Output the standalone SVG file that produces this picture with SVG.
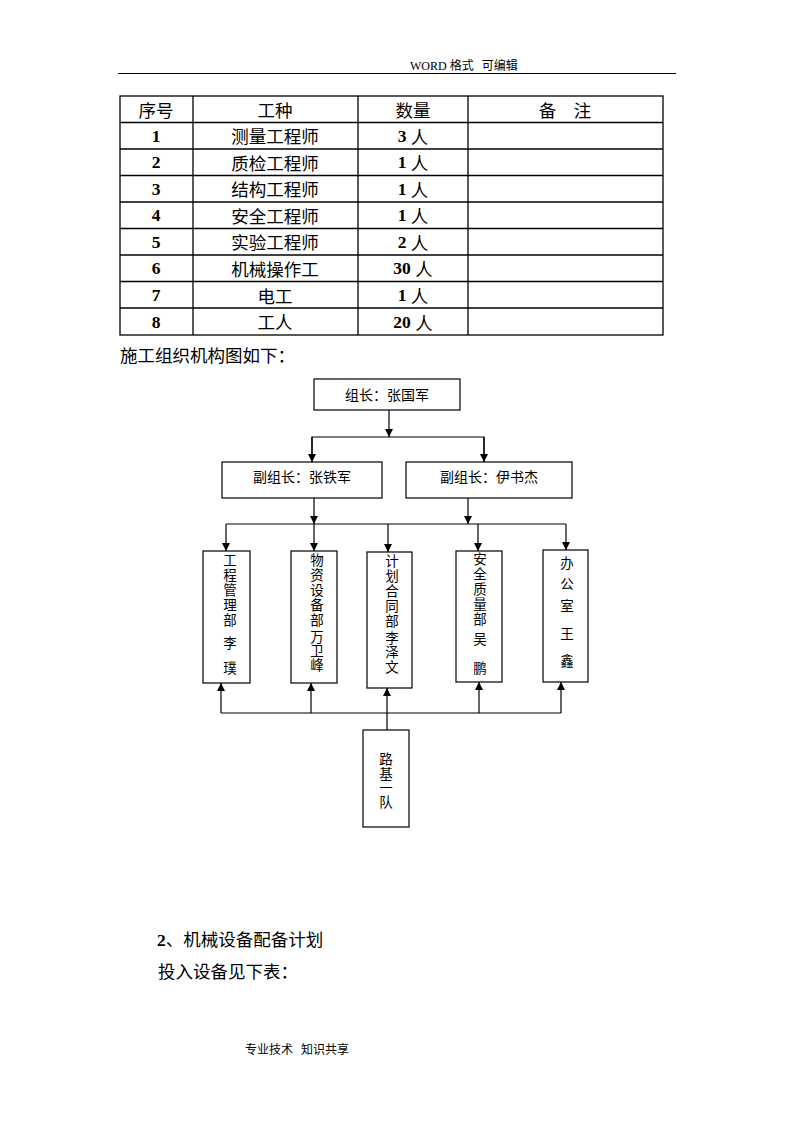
<svg xmlns="http://www.w3.org/2000/svg" width="794" height="1123" viewBox="0 0 794 1123">
<defs>
<style>
.cjk{font-family:"Noto Sans CJK SC","Liberation Sans",sans-serif;fill:#000}
.num{font-family:"Liberation Serif","Noto Sans CJK SC",serif;font-weight:bold;fill:#000}
.t{font-size:17.5px;text-anchor:middle;dominant-baseline:central}
.box{fill:#fff;stroke:#000;stroke-width:1.2}
.v{font-size:13.5px;text-anchor:middle;dominant-baseline:central}
.vt{font-size:13.5px;text-anchor:middle;writing-mode:vertical-rl;text-orientation:upright;dominant-baseline:central;letter-spacing:1.5px}
.grid{stroke:#000;stroke-width:1.3;fill:none}
.conn{stroke:#000;stroke-width:1.2;fill:none}
</style>
<marker id="arr" markerWidth="8" markerHeight="8" refX="8" refY="4" orient="auto" markerUnits="userSpaceOnUse">
<path d="M0,0 L8,4 L0,8 Z" fill="#000"/>
</marker>
</defs>
<rect width="794" height="1123" fill="#fff"/>
<!-- header -->
<g id="header">
<text x="410" y="70" style="font-family:'Liberation Serif','Noto Sans CJK SC',serif;font-size:12px">WORD <tspan class="cjk">格式&#160;&#160;&#160;可编辑</tspan></text>
<line x1="118" y1="73.5" x2="676" y2="73.5" stroke="#000" stroke-width="1.2"/>
</g>
<!-- table -->
<g id="table">
<rect x="120" y="96" width="543" height="239" class="grid"/>
<g class="grid">
<line x1="193" y1="96" x2="193" y2="335"/>
<line x1="358" y1="96" x2="358" y2="335"/>
<line x1="468" y1="96" x2="468" y2="335"/>
<line x1="120" y1="122.5" x2="663" y2="122.5"/>
<line x1="120" y1="149" x2="663" y2="149"/>
<line x1="120" y1="175.5" x2="663" y2="175.5"/>
<line x1="120" y1="202" x2="663" y2="202"/>
<line x1="120" y1="228.5" x2="663" y2="228.5"/>
<line x1="120" y1="255" x2="663" y2="255"/>
<line x1="120" y1="281.5" x2="663" y2="281.5"/>
<line x1="120" y1="308" x2="663" y2="308"/>
</g>
<g class="cjk t">
<text x="156" y="109">序号</text>
<text x="275" y="109">工种</text>
<text x="413" y="109">数量</text>
<text x="565" y="109">备　注</text>
<text x="275" y="135.5">测量工程师</text>
<text x="275" y="162">质检工程师</text>
<text x="275" y="188.5">结构工程师</text>
<text x="275" y="215">安全工程师</text>
<text x="275" y="241.5">实验工程师</text>
<text x="275" y="268">机械操作工</text>
<text x="275" y="295">电工</text>
<text x="275" y="321.5">工人</text>
</g>
<g class="num t">
<text x="156" y="135.5">1</text>
<text x="156" y="162">2</text>
<text x="156" y="188.5">3</text>
<text x="156" y="215">4</text>
<text x="156" y="241.5">5</text>
<text x="156" y="268">6</text>
<text x="156" y="295">7</text>
<text x="156" y="321.5">8</text>
<text x="413" y="135.5">3 <tspan class="cjk" style="font-weight:normal">人</tspan></text>
<text x="413" y="162">1 <tspan class="cjk" style="font-weight:normal">人</tspan></text>
<text x="413" y="188.5">1 <tspan class="cjk" style="font-weight:normal">人</tspan></text>
<text x="413" y="215">1 <tspan class="cjk" style="font-weight:normal">人</tspan></text>
<text x="413" y="241.5">2 <tspan class="cjk" style="font-weight:normal">人</tspan></text>
<text x="413" y="268">30 <tspan class="cjk" style="font-weight:normal">人</tspan></text>
<text x="413" y="295">1 <tspan class="cjk" style="font-weight:normal">人</tspan></text>
<text x="413" y="321.5">20 <tspan class="cjk" style="font-weight:normal">人</tspan></text>
</g>
</g>
<text class="cjk" x="120" y="362" font-size="17.5">施工组织机构图如下：</text>
<!-- connectors -->
<g id="connectors" class="conn">
<line x1="389" y1="410" x2="389" y2="437" marker-end="url(#arr)"/>
<polyline points="312,462 312,437 484,437 484,462"/>
<line x1="312" y1="437" x2="312" y2="462" marker-end="url(#arr)"/>
<line x1="484" y1="437" x2="484" y2="462" marker-end="url(#arr)"/>
<line x1="314" y1="498" x2="314" y2="524" marker-end="url(#arr)"/>
<line x1="468" y1="498" x2="468" y2="524" marker-end="url(#arr)"/>
<line x1="226" y1="524" x2="566" y2="524"/>
<line x1="226" y1="524" x2="226" y2="551" marker-end="url(#arr)"/>
<line x1="314" y1="524" x2="314" y2="551" marker-end="url(#arr)"/>
<line x1="388" y1="524" x2="388" y2="552" marker-end="url(#arr)"/>
<line x1="478" y1="524" x2="478" y2="551" marker-end="url(#arr)"/>
<line x1="566" y1="524" x2="566" y2="550" marker-end="url(#arr)"/>
<line x1="221" y1="713" x2="561" y2="713"/>
<line x1="221" y1="713" x2="221" y2="683" marker-end="url(#arr)"/>
<line x1="311" y1="713" x2="311" y2="683" marker-end="url(#arr)"/>
<line x1="387" y1="730" x2="387" y2="688" marker-end="url(#arr)"/>
<line x1="479" y1="713" x2="479" y2="682" marker-end="url(#arr)"/>
<line x1="561" y1="713" x2="561" y2="682" marker-end="url(#arr)"/>
</g>
<!-- nodes -->
<g id="leader">
<rect class="box" x="314" y="379" width="146" height="31"/>
<text class="cjk" x="387" y="394" font-size="14" text-anchor="middle" dominant-baseline="central">组长：张国军</text>
</g>
<g id="deputy1">
<rect class="box" x="222" y="462" width="160" height="36"/>
<text class="cjk" x="302" y="476" font-size="14" text-anchor="middle" dominant-baseline="central">副组长：张铁军</text>
</g>
<g id="deputy2">
<rect class="box" x="406" y="462" width="166" height="36"/>
<text class="cjk" x="489" y="476" font-size="14" text-anchor="middle" dominant-baseline="central">副组长：伊书杰</text>
</g>
<g id="dept1">
<rect class="box" x="203" y="551" width="47" height="132"/>
<text class="cjk vt" x="230" y="591">工程管理部</text>
<text class="cjk v" x="230" y="642">李</text>
<text class="cjk v" x="230" y="667">璞</text>
</g>
<g id="dept2">
<rect class="box" x="291" y="551" width="46" height="132"/>
<text class="cjk vt" x="317" y="591">物资设备部</text>
<text class="cjk vt" x="317" y="651" style="letter-spacing:0.5px">万卫峰</text>
</g>
<g id="dept3">
<rect class="box" x="367" y="552" width="45" height="136"/>
<text class="cjk vt" x="392" y="592">计划合同部</text>
<text class="cjk vt" x="392" y="652.5" style="letter-spacing:1px">李泽文</text>
</g>
<g id="dept4">
<rect class="box" x="456" y="551" width="46" height="131"/>
<text class="cjk vt" x="480" y="590">安全质量部</text>
<text class="cjk v" x="480" y="638">吴</text>
<text class="cjk v" x="480" y="667">鹏</text>
</g>
<g id="dept5">
<rect class="box" x="543" y="550" width="45" height="132"/>
<text class="cjk v" x="567" y="562">办</text>
<text class="cjk v" x="567" y="583">公</text>
<text class="cjk v" x="567" y="605">室</text>
<text class="cjk v" x="567" y="633">王</text>
<text class="cjk v" x="567" y="660">鑫</text>
</g>
<g id="team1">
<rect class="box" x="363" y="730" width="46" height="97"/>
<text class="cjk vt" x="386" y="781" style="letter-spacing:0.8px">路基一队</text>
</g>
<text class="cjk" x="157" y="946" font-size="17.5"><tspan class="num" style="font-weight:bold">2</tspan>、机械设备配备计划</text>
<text class="cjk" x="158" y="978" font-size="17.5">投入设备见下表：</text>
<text class="cjk" x="245" y="1054" font-size="12">专业技术&#160;&#160;&#160;知识共享</text>
</svg>
